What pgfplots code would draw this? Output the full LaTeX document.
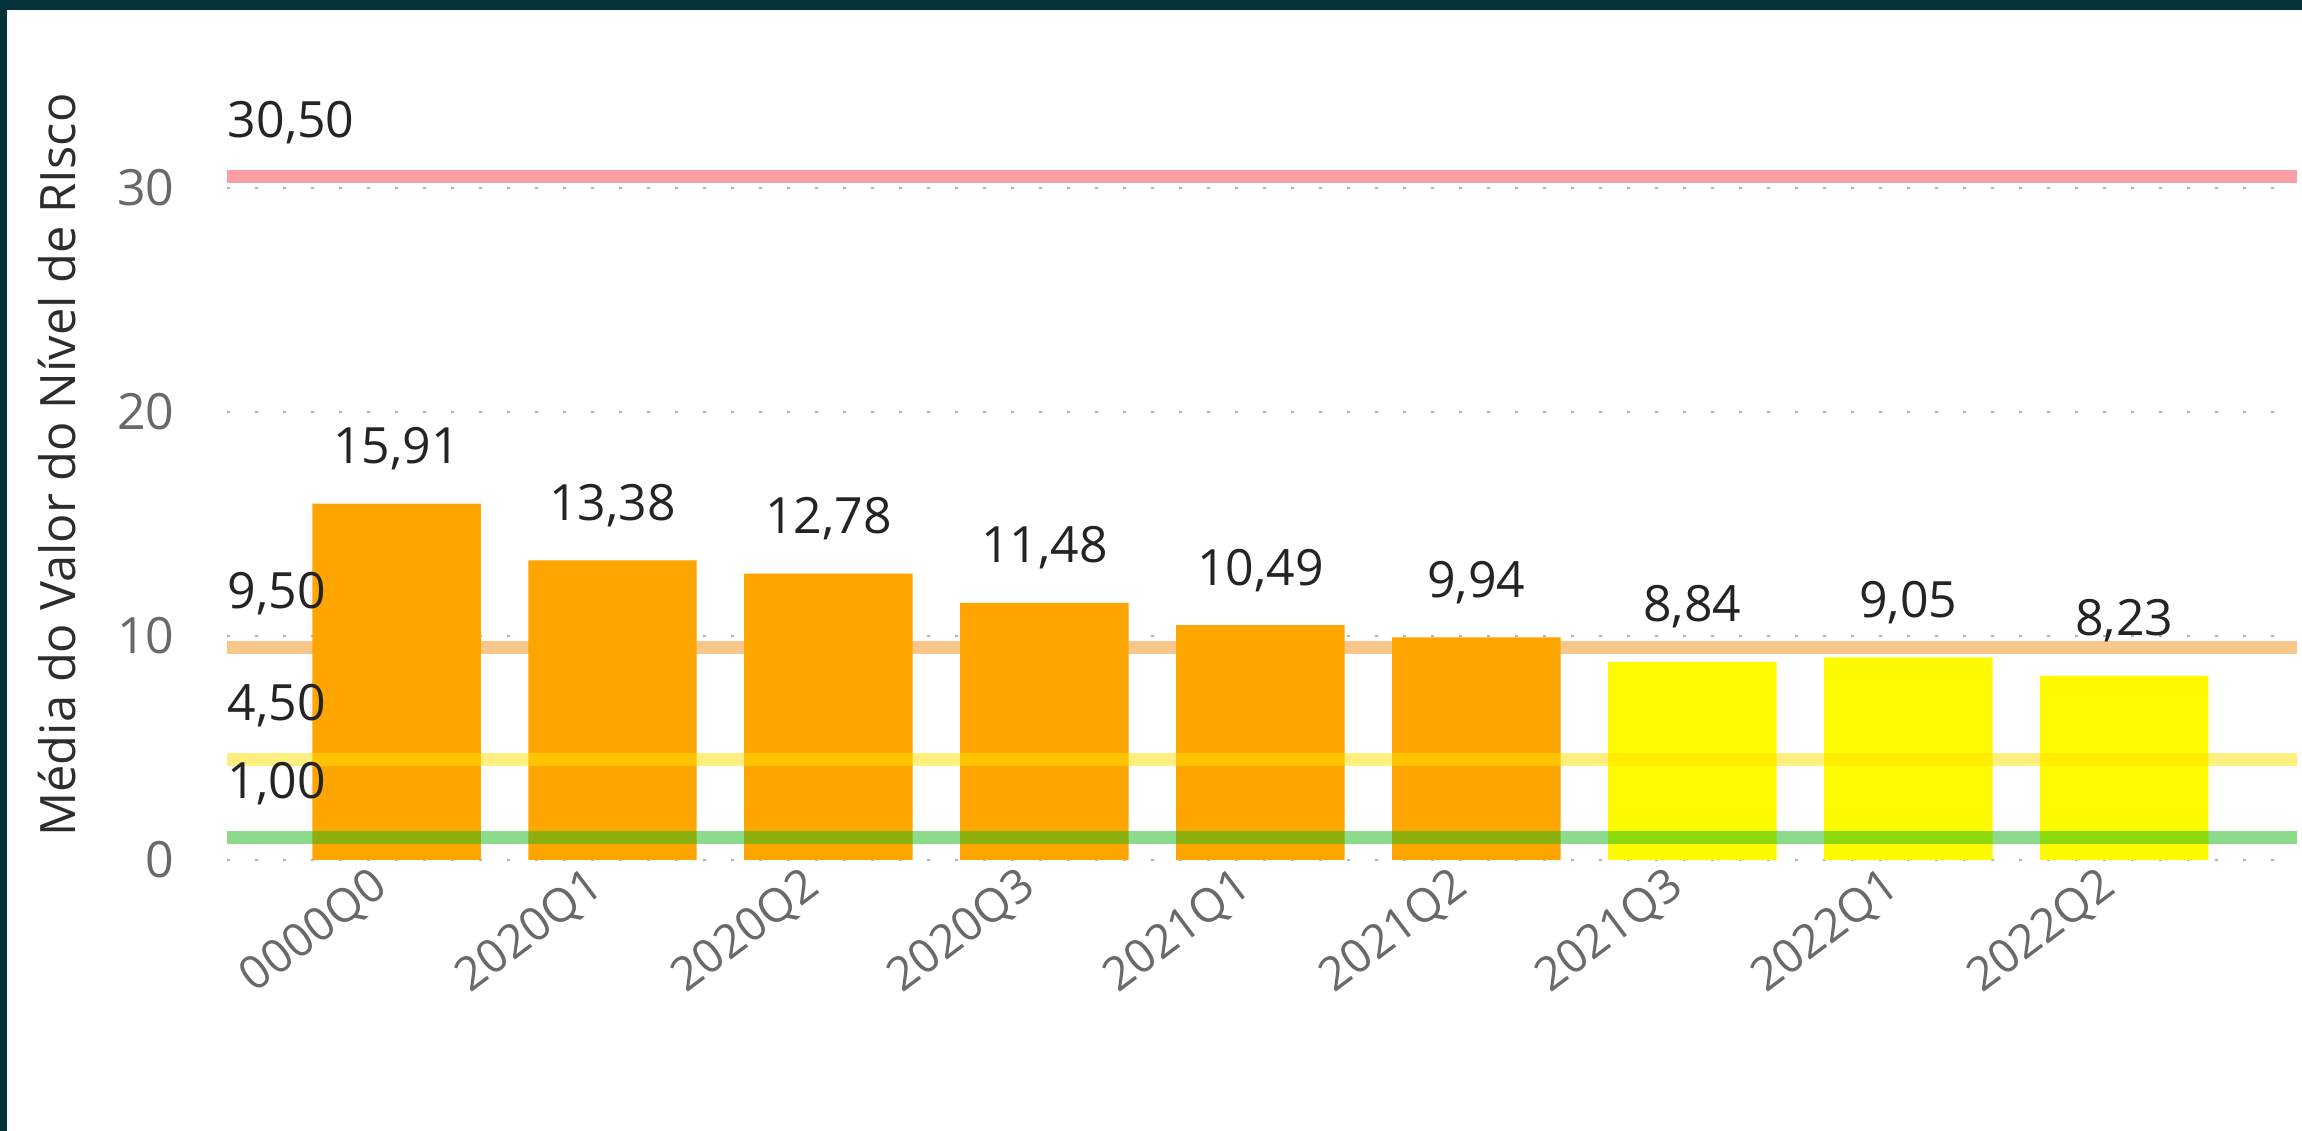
\documentclass[border=0pt]{standalone}
\usepackage{pgfplots}
\pgfplotsset{compat=1.18}
\usepackage{fontspec}
\setmainfont{Open Sans}
\definecolor{frame}{RGB}{6,50,58}
\definecolor{barO}{RGB}{255,165,0}
\definecolor{barY}{RGB}{255,250,0}
\definecolor{refR}{RGB}{245,65,75}
\definecolor{refO}{RGB}{247,145,25}
\definecolor{refY}{RGB}{255,225,0}
\definecolor{refG}{RGB}{25,185,25}
\definecolor{tickgray}{RGB}{105,105,105}
\definecolor{labeldark}{RGB}{37,36,35}
\definecolor{titlegray}{RGB}{45,45,45}
\definecolor{gridgray}{RGB}{180,180,180}
\begin{document}
\begin{tikzpicture}
\fill[frame] (0pt,0pt) rectangle (575.5pt,282.75pt);
\fill[white] (1.75pt,0pt) rectangle (575.5pt,280.25pt);
\node[rotate=90, anchor=base, inner sep=0pt, font=\fontsize{12.2}{14}\selectfont, text=titlegray] at (18.75pt,166.5pt) {Média do Valor do Nível de RIsco};
\begin{axis}[
  at={(56.75pt,67.75pt)}, anchor=south west,
  scale only axis, width=517.5pt, height=190.4pt,
  xmin=-0.785, xmax=8.8, ymin=0, ymax=34,
  axis line style={draw=none},
  tick style={draw=none},
  major tick length=0pt,
  xtick={0,1,2,3,4,5,6,7,8},
  xticklabels={0000Q0,2020Q1,2020Q2,2020Q3,2021Q1,2021Q2,2021Q3,2022Q1,2022Q2},
  ytick={0,10,20,30},
  ymajorgrids,
  grid style={gridgray, line width=0.5pt, dash pattern=on 0.75pt off 6.25pt},
  /pgf/number format/assume math mode=true,
  yticklabel style={anchor=east, inner sep=0pt, xshift=-13pt, text=tickgray, font=\fontsize{12.5}{15}\selectfont},
  xticklabel style={inner sep=0pt, xshift=-6.75pt, yshift=-1pt, rotate=37, anchor=north east, text=tickgray, font=\fontsize{11.6}{14}\selectfont},
  clip=false,
]
\addplot[refO, opacity=0.5, line width=3.25pt] coordinates {(-0.785,9.5) (8.8,9.5)};
\addplot[ybar, bar width=0.78, bar shift=0pt, fill=barO, draw=none,
  nodes near coords={\pgfmathprintnumber[fixed,fixed zerofill,precision=2,use comma,assume math mode=true]{\pgfplotspointmeta}},
  every node near coord/.append style={anchor=base, yshift=10pt, inner sep=0pt, text=labeldark, font=\fontsize{12.5}{15}\selectfont}]
  coordinates {(0,15.91) (1,13.38) (2,12.78) (3,11.48) (4,10.49) (5,9.94)};
\addplot[ybar, bar width=0.78, bar shift=0pt, fill=barY, draw=none,
  nodes near coords={\pgfmathprintnumber[fixed,fixed zerofill,precision=2,use comma,assume math mode=true]{\pgfplotspointmeta}},
  every node near coord/.append style={anchor=base, yshift=10pt, inner sep=0pt, text=labeldark, font=\fontsize{12.5}{15}\selectfont}]
  coordinates {(6,8.84) (7,9.05) (8,8.23)};
\addplot[refR, opacity=0.5, line width=3.25pt] coordinates {(-0.785,30.5) (8.8,30.5)};
\addplot[refY, opacity=0.5, line width=3.25pt] coordinates {(-0.785,4.5) (8.8,4.5)};
\addplot[refG, opacity=0.5, line width=3.25pt] coordinates {(-0.785,1) (8.8,1)};
\node[anchor=base west, inner sep=0pt, yshift=9.75pt, text=labeldark, font=\fontsize{12.5}{15}\selectfont] at (axis cs:-0.785,30.5) {30,50};
\node[anchor=base west, inner sep=0pt, yshift=9.75pt, text=labeldark, font=\fontsize{12.5}{15}\selectfont] at (axis cs:-0.785,9.5) {9,50};
\node[anchor=base west, inner sep=0pt, yshift=9.75pt, text=labeldark, font=\fontsize{12.5}{15}\selectfont] at (axis cs:-0.785,4.5) {4,50};
\node[anchor=base west, inner sep=0pt, yshift=9.75pt, text=labeldark, font=\fontsize{12.5}{15}\selectfont] at (axis cs:-0.785,1) {1,00};
\end{axis}
\pgfresetboundingbox
\useasboundingbox (0pt,0pt) rectangle (575.5pt,282.75pt);
\end{tikzpicture}
\end{document}
